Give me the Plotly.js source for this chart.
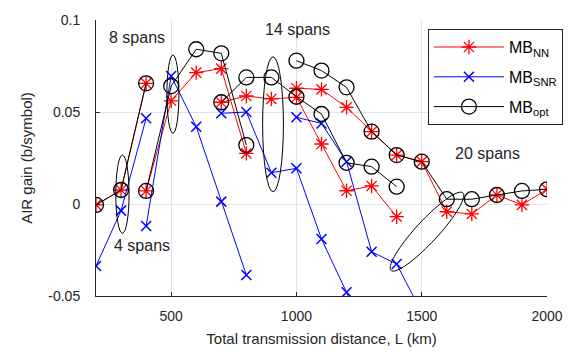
<!DOCTYPE html>
<html>
<head>
<meta charset="utf-8">
<script src="https://cdn.plot.ly/plotly-3.0.1.min.js"></script>
<style>html,body{margin:0;padding:0;background:#fff;}#chart{width:575px;height:352px;}</style>
</head>
<body>
<div id="chart"></div>
<script>
// Distances (km) for each span-count group
const dist4  = [200, 300, 400];
const dist8  = [400, 500, 600, 700, 800];
const dist14 = [700, 800, 900, 1000, 1100, 1200, 1300, 1400];
const dist20 = [1000, 1100, 1200, 1300, 1400, 1500, 1600, 1700, 1800, 1900, 2000];

// MB_NN (red)
const nn4  = [-0.0005, 0.0076, 0.0656];
const nn8  = [0.0071, 0.0561, 0.0714, 0.0736, 0.0275];
const nn14 = [0.0553, 0.0587, 0.0571, 0.0580, 0.0326, 0.0072, 0.0098, -0.0069];
const nn20 = [0.0629, 0.0623, 0.0525, 0.0393, 0.0266, 0.0230, -0.0042, -0.0054, 0.0049, -0.0005, 0.0080];

// MB_SNR (blue)
const snr4  = [-0.0337, -0.0036, 0.0466];
const snr8  = [-0.0120, 0.0696, 0.0420, 0.0013, -0.0386];
const snr14 = [0.0493, 0.0500, 0.0170, 0.0194, -0.0190, -0.0480, -0.0800];
const snr20 = [0.0471, 0.0438, 0.0230, -0.0260, -0.0326, -0.0590];

// MB_opt (black)
const opt4  = [-0.0005, 0.0076, 0.0656];
const opt8  = [0.0071, 0.0641, 0.0841, 0.0819, 0.0320];
const opt14 = [0.0553, 0.0688, 0.0688, 0.0583, 0.0489, 0.0224, 0.0203, 0.0094];
const opt20 = [0.0779, 0.0725, 0.0634, 0.0393, 0.0266, 0.0230, 0.0026, 0.0026, 0.0049, 0.0071, 0.0080];

const groupDists = [dist4, dist8, dist14, dist20];

function joinGroups(valueGroups) {
  const xs = [], ys = [];
  valueGroups.forEach((vals, g) => {
    if (g > 0) { xs.push(null); ys.push(null); }
    vals.forEach((v, i) => { xs.push(groupDists[g][i]); ys.push(v); });
  });
  return {x: xs, y: ys};
}

const nn  = joinGroups([nn4, nn8, nn14, nn20]);
const snr = joinGroups([snr4, snr8, snr14, snr20]);
const opt = joinGroups([opt4, opt8, opt14, opt20]);

const FONT = '"Liberation Sans", Arial, Helvetica, sans-serif';

const traces = [
  {x: nn.x, y: nn.y, type: 'scatter', mode: 'lines+markers', name: 'MB<sub>NN</sub>',
   legendgroup: 'nn', connectgaps: false,
   line: {color: '#ff0000', width: 1},
   marker: {symbol: 'asterisk-open', size: 12, color: '#ff0000', line: {color: '#ff0000', width: 1.3}}},
  {x: snr.x, y: snr.y, type: 'scatter', mode: 'lines+markers', name: 'MB<sub>SNR</sub>',
   legendgroup: 'snr', connectgaps: false,
   line: {color: '#0000ff', width: 1},
   marker: {symbol: 'x-thin-open', size: 10, color: '#0000ff', line: {color: '#0000ff', width: 1.5}}},
  {x: opt.x, y: opt.y, type: 'scatter', mode: 'lines+markers', name: 'MB<sub>opt</sub>',
   legendgroup: 'opt', connectgaps: false,
   line: {color: '#000000', width: 1},
   marker: {symbol: 'circle-open', size: 15, color: '#000000', line: {color: '#000000', width: 1.3}}}
];

// plot geometry for the tilted ellipse (pixel-shaped, expressed in data units)
const W = 575, H = 352, M = {l: 96, r: 25, t: 20, b: 56};
const xRange = [200, 2000], yRange = [-0.05, 0.1];
const pxPerX = (W - M.l - M.r) / (xRange[1] - xRange[0]);
const pxPerY = (H - M.t - M.b) / (yRange[1] - yRange[0]);
function tiltedEllipse(cx, cy, a, b, deg) {
  const th = deg * Math.PI / 180;
  let p = '';
  for (let k = 0; k <= 72; k++) {
    const t = 2 * Math.PI * k / 72;
    const px = a * Math.cos(t) * Math.cos(th) - b * Math.sin(t) * Math.sin(th);
    const py = a * Math.cos(t) * Math.sin(th) + b * Math.sin(t) * Math.cos(th);
    p += (k === 0 ? 'M' : 'L') + (cx + px / pxPerX).toFixed(2) + ',' + (cy + py / pxPerY).toFixed(5);
  }
  return p + 'Z';
}

const ellLine = {color: '#000000', width: 1};
const shapes = [
  {type: 'circle', xref: 'x', yref: 'y', x0: 279, x1: 332, y0: -0.0159, y1: 0.0266, line: ellLine},
  {type: 'circle', xref: 'x', yref: 'y', x0: 483, x1: 531, y0: 0.0384, y1: 0.0810, line: ellLine},
  {type: 'circle', xref: 'x', yref: 'y', x0: 865, x1: 948, y0: 0.0067, y1: 0.0800, line: ellLine},
  {type: 'path', xref: 'x', yref: 'y', path: tiltedEllipse(1521, -0.0150, 53, 11, 47), line: ellLine}
];

const annFont = {family: FONT, size: 16, color: '#262626'};
const annotations = [
  {x: 365, y: 0.0904, xref: 'x', yref: 'y', text: '8 spans', showarrow: false, font: annFont},
  {x: 1005, y: 0.0949, xref: 'x', yref: 'y', text: '14 spans', showarrow: false, font: annFont},
  {x: 1763, y: 0.0272, xref: 'x', yref: 'y', text: '20 spans', showarrow: false, font: annFont},
  {x: 382, y: -0.0223, xref: 'x', yref: 'y', text: '4 spans', showarrow: false, font: annFont}
];

const layout = {
  width: W, height: H,
  margin: M,
  paper_bgcolor: '#ffffff', plot_bgcolor: '#ffffff',
  font: {family: FONT, size: 14, color: '#262626'},
  showlegend: true,
  legend: {x: 0.736, y: 0.967, xanchor: 'left', yanchor: 'top',
           bgcolor: '#ffffff', bordercolor: '#262626', borderwidth: 1,
           itemwidth: 70, tracegroupgap: 6, valign: 'middle',
           font: {family: FONT, size: 16, color: '#000000'}},
  xaxis: {range: xRange, tickvals: [500, 1000, 1500, 2000], ticktext: ['500', '1000', '1500', '2000'],
          showgrid: true, gridcolor: '#e3e3e3', gridwidth: 1, zeroline: false,
          showline: true, linecolor: '#262626', linewidth: 1, mirror: false,
          ticks: 'inside', ticklen: 4, tickcolor: '#262626', ticklabelstandoff: 7,
          tickfont: {family: FONT, size: 14, color: '#262626'},
          title: {text: 'Total transmission distance, L (km)', standoff: 10,
                  font: {family: FONT, size: 15, color: '#262626'}}},
  yaxis: {range: yRange, tickvals: [-0.05, 0, 0.05, 0.1], ticktext: ['-0.05', '0', '0.05', '0.1'],
          showgrid: true, gridcolor: '#e3e3e3', gridwidth: 1, zeroline: false,
          showline: true, linecolor: '#262626', linewidth: 1, mirror: false,
          ticks: 'inside', ticklen: 4, tickcolor: '#262626', ticklabelstandoff: 12,
          tickfont: {family: FONT, size: 14, color: '#262626'},
          title: {text: 'AIR gain (b/symbol)', standoff: 12,
                  font: {family: FONT, size: 15, color: '#262626'}}},
  shapes: shapes,
  annotations: annotations
};

Plotly.newPlot('chart', traces, layout, {displayModeBar: false, staticPlot: true});
</script>
</body>
</html>
